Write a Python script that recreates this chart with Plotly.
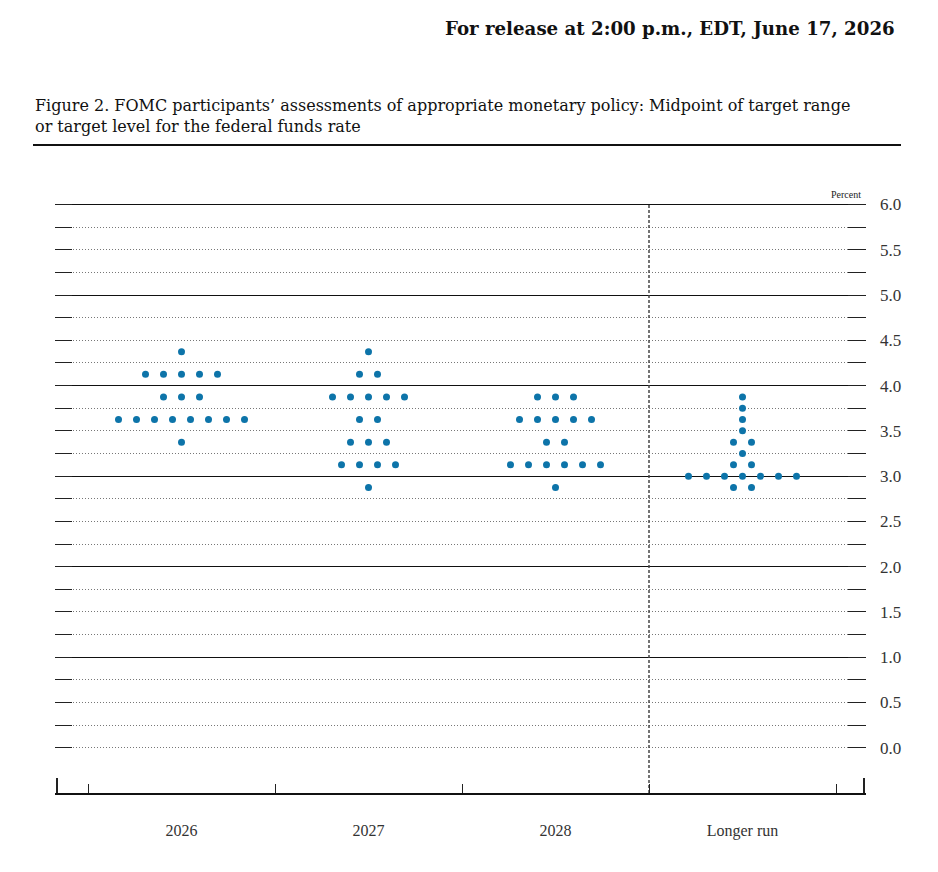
import numpy as np
import plotly.graph_objects as go
from collections import Counter

categories = ["2026", "2027", "2028", "Longer run"]

# midpoint of each participant's target range
rate_2026 = [4.375,
             4.125, 4.125, 4.125, 4.125, 4.125,
             3.875, 3.875, 3.875,
             3.625, 3.625, 3.625, 3.625, 3.625, 3.625, 3.625, 3.625,
             3.375]
rate_2027 = [4.375,
             4.125, 4.125,
             3.875, 3.875, 3.875, 3.875, 3.875,
             3.625, 3.625,
             3.375, 3.375, 3.375,
             3.125, 3.125, 3.125, 3.125,
             2.875]
rate_2028 = [3.875, 3.875, 3.875,
             3.625, 3.625, 3.625, 3.625, 3.625,
             3.375, 3.375,
             3.125, 3.125, 3.125, 3.125, 3.125, 3.125,
             2.875]
rate_longer_run = [3.875, 3.75, 3.625, 3.5,
                   3.375, 3.375,
                   3.25,
                   3.125, 3.125,
                   3.0, 3.0, 3.0, 3.0, 3.0, 3.0, 3.0,
                   2.875, 2.875]

y_labels = ["%.1f" % v for v in np.arange(0, 6.01, 0.5)]

projections = [rate_2026, rate_2027, rate_2028, rate_longer_run]

# the page body adds an 8px margin, so the figure is laid out 8px smaller
OFF = 8
PAD = 2  # plot area runs 2px past the end ticks so plotly keeps them
W, H = 938 - OFF, 872 - OFF
L, R, T, B = 57 - OFF - PAD, 74 - PAD, 200 - OFF, 79
X_ENDS = [-0.5 - 31 / 187, 3.5 + 28 / 187]
X_RANGE = [X_ENDS[0] - PAD / 187, X_ENDS[1] + PAD / 187]
Y_RANGE = [-0.5, 6.05]
DOT_GAP = 18 / 187
FONT = "Liberation Serif"
TITLE_FONT = "DejaVu Serif"
BLUE = "#0d74a9"


def px_x(p):
    return (p - OFF - L) / (W - L - R)


def px_y(p):
    return (H - B - (p - OFF)) / (H - T - B)


# spread the dots for each level sideways, centred on the column
dot_x, dot_y = [], []
for i, values in enumerate(projections):
    for level, n in sorted(Counter(values).items()):
        offsets = (np.arange(n) - (n - 1) / 2) * DOT_GAP
        dot_x.extend(i + offsets)
        dot_y.extend([level] * n)

fig = go.Figure()

fig.add_trace(go.Scatter(
    x=[2.5, 2.5], y=[Y_RANGE[0], 6.0],
    mode="lines",
    line=dict(color="#444", width=1.5, dash="3px,2px"),
    hoverinfo="skip",
    showlegend=False,
))

fig.add_trace(go.Scatter(
    x=dot_x, y=dot_y,
    xaxis="x2", yaxis="y2",
    mode="markers",
    marker=dict(color=BLUE, size=7),
    showlegend=False,
))

quarter_steps = list(np.arange(0, 5.9, 0.25))

fig.update_layout(
    width=W, height=H,
    margin=dict(l=L, r=R, t=T, b=B, pad=0),
    plot_bgcolor="white",
    paper_bgcolor="white",
    font=dict(family=FONT, color="#222"),
    showlegend=False,
    xaxis=dict(
        range=X_RANGE,
        tickmode="array",
        tickvals=X_ENDS,
        showticklabels=False,
        ticks="inside", ticklen=15, tickwidth=1.5, tickcolor="#222",
        minor=dict(tickmode="array", tickvals=[-0.5, 0.5, 1.5, 2.5, 3.5],
                   ticks="inside", ticklen=9, tickwidth=1.2, tickcolor="#222"),
        showline=True, linecolor="#111", linewidth=1.5,
        showgrid=False, zeroline=False,
    ),
    xaxis2=dict(
        range=X_RANGE,
        overlaying="x", anchor="y", side="bottom",
        tickmode="array",
        tickvals=[0, 1, 2, 3],
        ticktext=categories,
        ticks="",
        ticklabelstandoff=26,
        tickfont=dict(size=16, color="#333"),
        showline=False, showgrid=False, zeroline=False,
    ),
    yaxis=dict(
        range=Y_RANGE,
        tickmode="array",
        tickvals=[1, 2, 3, 4, 5, 6],
        showticklabels=False,
        ticks="inside", ticklen=17, tickcolor="#222", tickwidth=1.2,
        showgrid=True, gridcolor="#111", gridwidth=1,
        minor=dict(tickmode="array", tickvals=quarter_steps,
                   ticks="inside", ticklen=17, tickcolor="#222", tickwidth=1.2,
                   showgrid=True, gridcolor="#777", gridwidth=1,
                   griddash="1px,2px"),
        showline=False, zeroline=False,
    ),
    yaxis2=dict(
        range=Y_RANGE,
        overlaying="y", anchor="x", side="right",
        tickmode="array",
        tickvals=[float(v) for v in y_labels],
        ticktext=y_labels,
        ticks="inside", ticklen=18, tickcolor="#222", tickwidth=1.2,
        minor=dict(tickmode="array", tickvals=quarter_steps,
                   ticks="inside", ticklen=18, tickcolor="#222", tickwidth=1.2),
        ticklabelstandoff=13,
        tickfont=dict(size=17, color="#333"),
        showgrid=False, showline=False, zeroline=False,
    ),
)

fig.add_annotation(
    text="<b>For release at 2:00 p.m., EDT, June 17, 2026</b>",
    xref="paper", yref="paper",
    x=px_x(897), y=px_y(28),
    xanchor="right", yanchor="middle",
    showarrow=False,
    font=dict(family=TITLE_FONT, size=18.2, color="#111"),
)

fig.add_annotation(
    text="Figure 2. FOMC participants\u2019 assessments of appropriate monetary policy: "
         "Midpoint of target range<br>or target level for the federal funds rate",
    xref="paper", yref="paper",
    x=px_x(33), y=px_y(94),
    xanchor="left", yanchor="top", align="left",
    showarrow=False,
    font=dict(family=TITLE_FONT, size=16, color="#111"),
)

fig.add_annotation(
    text="Percent",
    xref="paper", yref="paper",
    x=px_x(863), y=px_y(195),
    xanchor="right", yanchor="middle",
    showarrow=False,
    font=dict(family=FONT, size=10, color="#222"),
)

# rule under the figure title
fig.add_shape(
    type="line", xref="paper", yref="paper",
    x0=px_x(33), x1=px_x(901), y0=px_y(145), y1=px_y(145),
    line=dict(color="#111", width=2),
)

fig.write_html("out.html")
